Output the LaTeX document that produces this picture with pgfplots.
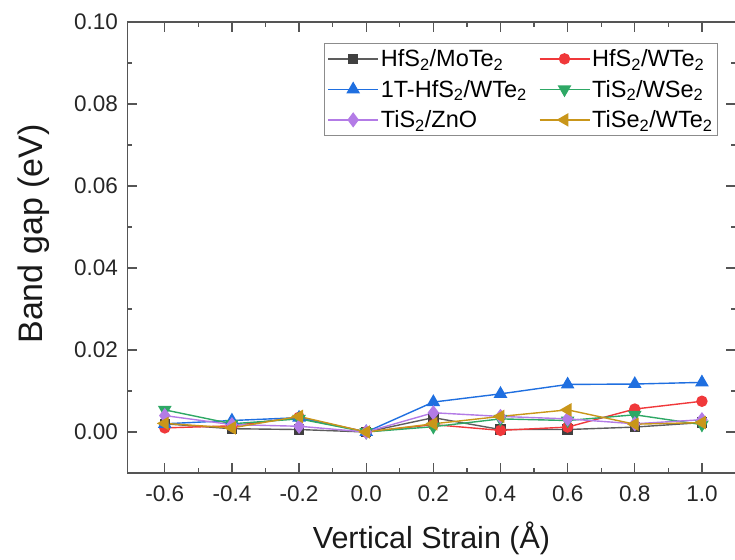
\documentclass[border=0pt]{standalone}
\usepackage{pgfplots}
\pgfplotsset{compat=1.18}
\usepackage{fontspec}
\setmainfont{Liberation Sans}
\newcommand{\two}{\textsubscript{2}}
\definecolor{cblack}{HTML}{404040}
\definecolor{cred}{HTML}{F0383A}
\definecolor{cblue}{HTML}{1F6FE0}
\definecolor{cgreen}{HTML}{2EA865}
\definecolor{cpurple}{HTML}{B37BE6}
\definecolor{cgold}{HTML}{C9961A}
\definecolor{caxis}{HTML}{555555}
\begin{document}
\begin{tikzpicture}
\begin{axis}[
  scale only axis,
  width=608bp, height=451bp,
  xmin=-0.711, xmax=1.1,
  ymin=-0.01, ymax=0.10,
  xtick={-0.6,-0.4,...,1.0},
  ytick={0,0.02,...,0.10},
  minor x tick num=1,
  minor y tick num=1,
  tick align=inside,
  major tick length=10bp,
  minor tick length=5bp,
  axis line style={caxis, line width=1.3bp},
  every tick/.style={caxis, line width=1.2bp},
  /pgf/number format/assume math mode=true,
  xticklabel style={/pgf/number format/fixed, /pgf/number format/fixed zerofill, /pgf/number format/precision=1, yshift=-9bp},
  yticklabel style={/pgf/number format/fixed, /pgf/number format/fixed zerofill, /pgf/number format/precision=2, xshift=-6bp},
  scaled y ticks=false,
  ticklabel style={font=\fontsize{22.5bp}{27bp}\selectfont, text=black!85},
  xlabel={Vertical Strain (Å)},
  ylabel={Band gap (eV)},
  xlabel style={font=\fontsize{30.5bp}{36bp}\selectfont, text=black!90, at={(axis description cs:0.5,-0.1685)}, anchor=base},
  ylabel style={font=\fontsize{34bp}{40bp}\selectfont, text=black!90, at={(axis description cs:-0.139,0.53)}, anchor=base},
  legend columns=2,
  legend cell align=left,
  legend style={at={(0.971,0.953)}, anchor=north east, draw=black!45, line width=0.8bp,
    font=\fontsize{23.5bp}{28bp}\selectfont, inner xsep=3bp, inner ysep=4bp, row sep=8bp,
    /tikz/every even column/.append style={column sep=10bp}},
  legend image code/.code={\draw[#1] (0bp,0bp) -- (25bp,0bp) -- (50bp,0bp); \path[#1] plot coordinates {(25bp,0bp)};},
  every axis plot/.append style={line width=1.4bp},
]
\addplot[color=cblack!85, mark=square*, mark size=4.5bp, mark options={fill=cblack, draw=cblack}]
 coordinates {(-0.6,0.0020) (-0.4,0.0008) (-0.2,0.0006) (0.0,0.0000) (0.2,0.0035) (0.4,0.0006) (0.6,0.0006) (0.8,0.0012) (1.0,0.0023)};
\addlegendentry{HfS\two/MoTe\two}
\addplot[color=cred, mark=*, mark size=5bp]
 coordinates {(-0.6,0.0010) (-0.4,0.0015) (-0.2,0.0036) (0.0,0.0000) (0.2,0.0018) (0.4,0.0004) (0.6,0.0012) (0.8,0.0056) (1.0,0.0075)};
\addlegendentry{HfS\two/WTe\two}
\addplot[color=cblue, mark=triangle*, mark size=6.5bp]
 coordinates {(-0.6,0.0020) (-0.4,0.0028) (-0.2,0.0035) (0.0,0.0000) (0.2,0.0073) (0.4,0.0093) (0.6,0.0116) (0.8,0.0117) (1.0,0.0121)};
\addlegendentry{1T-HfS\two/WTe\two}
\addplot[color=cgreen, mark=triangle*, mark size=6.5bp, mark options={rotate=180}]
 coordinates {(-0.6,0.0054) (-0.4,0.0020) (-0.2,0.0032) (0.0,0.0000) (0.2,0.0013) (0.4,0.0032) (0.6,0.0028) (0.8,0.0042) (1.0,0.0018)};
\addlegendentry{TiS\two/WSe\two}
\addplot[color=cpurple, mark=diamond*, mark size=6.5bp]
 coordinates {(-0.6,0.0040) (-0.4,0.0018) (-0.2,0.0014) (0.0,0.0000) (0.2,0.0047) (0.4,0.0038) (0.6,0.0032) (0.8,0.0020) (1.0,0.0030)};
\addlegendentry{TiS\two/ZnO}
\addplot[color=cgold, mark=triangle*, mark size=6.5bp, mark options={rotate=90}]
 coordinates {(-0.6,0.0021) (-0.4,0.0010) (-0.2,0.0038) (0.0,0.0000) (0.2,0.0020) (0.4,0.0038) (0.6,0.0054) (0.8,0.0019) (1.0,0.0023)};
\addlegendentry{TiSe\two/WTe\two}
\end{axis}
\pgfresetboundingbox
\path (current axis.south west) ++(-127.5bp,-87bp) rectangle ++(735bp,560bp);
\end{tikzpicture}
\end{document}
